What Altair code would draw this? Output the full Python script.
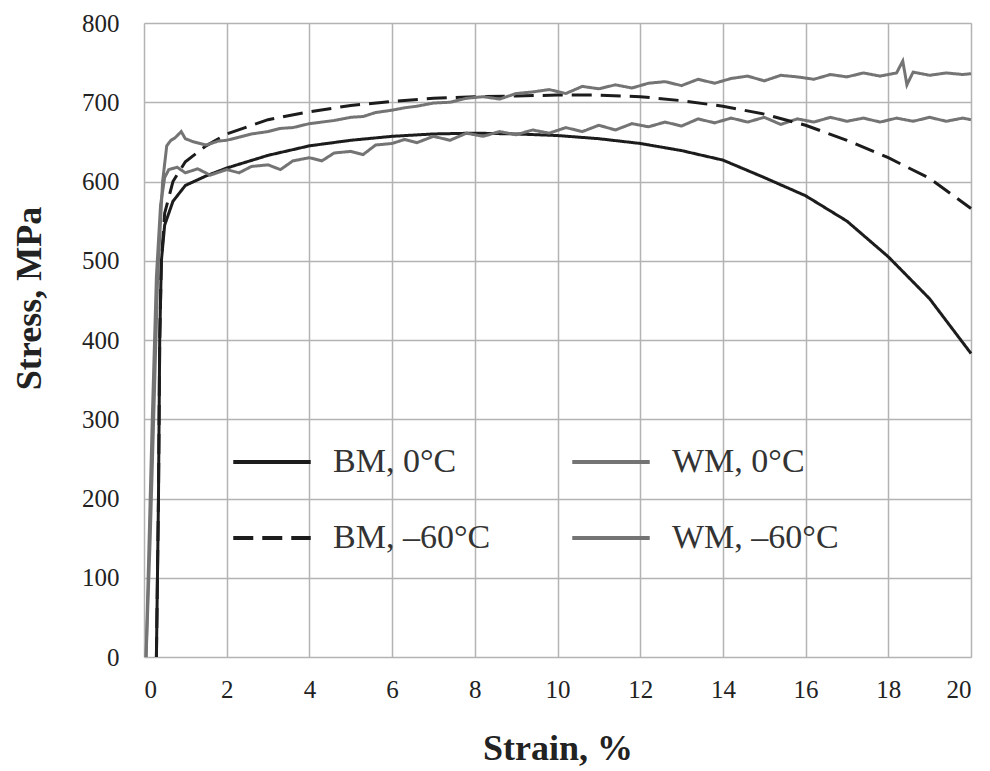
import altair as alt
import pandas as pd

# ---- data ----
# legend is laid out column by column: BM in the first column, WM in the second
series_names = ["BM, 0°C", "BM, –60°C", "WM, 0°C", "WM, –60°C"]

bm0_x = [0.30, 0.35, 0.38, 0.42, 0.50, 0.70, 1.0, 1.5, 2, 3, 4, 5, 6, 7, 8, 9, 10,
         11, 12, 13, 14, 15, 16, 17, 18, 19, 20]
bm0_y = [0, 200, 400, 500, 545, 575, 595, 607, 617, 633, 645, 652, 657, 660, 661, 660, 658,
         654, 648, 639, 627, 605, 582, 550, 505, 452, 383]

bm60_x = [0.30, 0.35, 0.38, 0.42, 0.50, 0.70, 1.0, 1.5, 2, 3, 4, 5, 6, 7, 8, 9, 10,
          11, 12, 13, 14, 15, 16, 17, 18, 19, 20]
bm60_y = [0, 200, 400, 500, 560, 600, 625, 645, 660, 678, 688, 696, 701, 705, 707, 708, 709,
          709, 707, 702, 695, 685, 671, 652, 630, 604, 566]

wm0_x = [0.05, 0.10, 0.20, 0.30, 0.40, 0.50, 0.60, 0.80, 1.0, 1.3, 1.6, 2.0, 2.3, 2.6, 3.0,
         3.3, 3.6, 4.0, 4.3, 4.6, 5.0, 5.3, 5.6, 6.0, 6.3, 6.6, 7.0, 7.4, 7.8, 8.2, 8.6,
         9.0, 9.4, 9.8, 10.2, 10.6, 11.0, 11.4, 11.8, 12.2, 12.6, 13.0, 13.4, 13.8, 14.2,
         14.6, 15.0, 15.4, 15.8, 16.2, 16.6, 17.0, 17.4, 17.8, 18.2, 18.6, 19.0, 19.4, 19.8, 20.0]
wm0_y = [0, 100, 300, 480, 570, 605, 615, 618, 611, 616, 608, 615, 611, 619, 621,
         615, 626, 630, 626, 636, 638, 634, 646, 648, 653, 649, 657, 652, 661, 657, 663,
         659, 665, 661, 668, 663, 671, 665, 673, 669, 675, 670, 679, 674, 680,
         675, 681, 672, 679, 675, 681, 676, 680, 675, 680, 676, 681, 676, 680, 678]

wm60_x = [0.05, 0.15, 0.25, 0.33, 0.45, 0.55, 0.65, 0.75, 0.90, 1.0, 1.2, 1.5, 1.8, 2.0,
          2.3, 2.6, 3.0, 3.3, 3.6, 4.0, 4.3, 4.6, 5.0, 5.3, 5.6, 6.0, 6.3, 6.6, 7.0, 7.4,
          7.8, 8.2, 8.6, 9.0, 9.4, 9.8, 10.2, 10.6, 11.0, 11.4, 11.8, 12.2, 12.6, 13.0,
          13.4, 13.8, 14.2, 14.6, 15.0, 15.4, 15.8, 16.2, 16.6, 17.0, 17.4, 17.8, 18.2,
          18.35, 18.45, 18.6, 19.0, 19.4, 19.8, 20.0]
wm60_y = [0, 150, 330, 480, 600, 645, 652, 655, 663, 654, 650, 646, 651, 652,
          656, 660, 663, 667, 668, 673, 675, 677, 681, 682, 687, 690, 693, 695, 699, 700,
          705, 707, 704, 711, 713, 716, 711, 720, 717, 722, 718, 724, 726, 721,
          729, 724, 730, 733, 727, 734, 732, 729, 735, 732, 737, 733, 737,
          752, 722, 738, 734, 737, 735, 736]

rows = []
for name, xs, ys in [
    ("BM, 0°C", bm0_x, bm0_y),
    ("WM, 0°C", wm0_x, wm0_y),
    ("BM, –60°C", bm60_x, bm60_y),
    ("WM, –60°C", wm60_x, wm60_y),
]:
    for x, y in zip(xs, ys):
        rows.append({"series": name, "strain": x, "stress": y})
df = pd.DataFrame(rows)

x_ticks = list(range(0, 21, 2))
y_ticks = list(range(0, 801, 100))

font = "Liberation Serif"
colors = ["#1c1c1c", "#1c1c1c", "#747474", "#747474"]
dashes = [[1, 0], [20, 9], [1, 0], [1, 0]]


def make_legend():
    return alt.Legend(
        title=None, orient="none", legendX=87, legendY=398,
        columns=2, values=series_names, symbolType="stroke", symbolSize=6000,
        symbolStrokeWidth=4, labelFont=font, labelFontSize=34,
        labelColor="#333", labelOffset=20, columnPadding=73,
        rowPadding=18, labelLimit=400,
    )


chart = (
    alt.Chart(df)
    .mark_line(strokeWidth=3)
    .encode(
        x=alt.X(
            "strain:Q",
            scale=alt.Scale(domain=[0, 20], nice=False),
            axis=alt.Axis(
                title="Strain, %", values=x_ticks, ticks=False, domain=False,
                labelFontSize=25, labelFont=font, labelColor="#222",
                labelPadding=20, titleFontSize=36, titleFont=font,
                titleFontWeight="bold", titleColor="#222", titlePadding=29,
                gridColor="#b3b3b3", gridWidth=1.5,
            ),
        ),
        y=alt.Y(
            "stress:Q",
            scale=alt.Scale(domain=[0, 800], nice=False),
            axis=alt.Axis(
                title="Stress, MPa", values=y_ticks, ticks=False, domain=False,
                labelFontSize=25, labelFont=font, labelColor="#222",
                labelPadding=25, titleFontSize=36, titleFont=font,
                titleFontWeight="bold", titleColor="#222", titlePadding=33,
                titleY=275, titleBaseline="bottom",
                gridColor="#b3b3b3", gridWidth=1.5,
            ),
        ),
        color=alt.Color(
            "series:N",
            scale=alt.Scale(domain=series_names, range=colors),
            legend=make_legend(),
        ),
        strokeDash=alt.StrokeDash(
            "series:N",
            scale=alt.Scale(domain=series_names, range=dashes),
            legend=make_legend(),
        ),
    )
    .properties(
        width=827, height=634,
        padding={"left": 3, "top": 3, "right": 5, "bottom": 0},
    )
    .configure_view(stroke="#9e9e9e", strokeWidth=1.5)
    .configure(background="white")
)

chart.save("out.html", embed_options={"renderer": "svg", "actions": False})
